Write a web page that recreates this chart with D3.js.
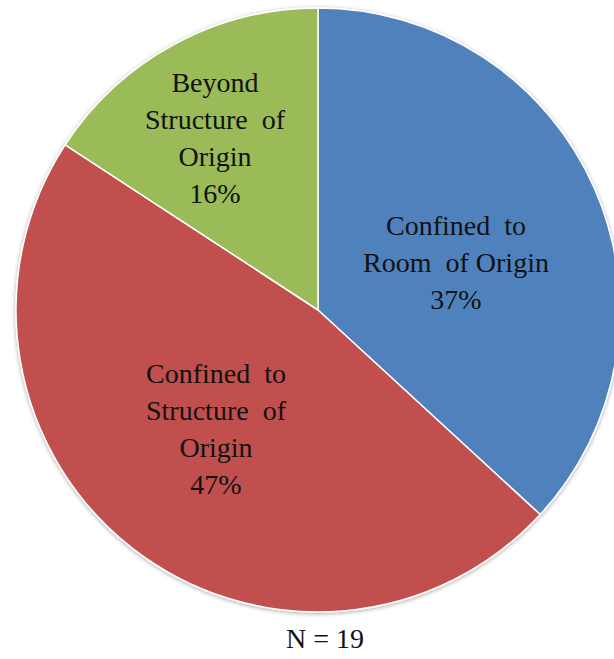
<!DOCTYPE html>
<html><head><meta charset="utf-8">
<script src="https://cdn.jsdelivr.net/npm/d3@7"></script>
<style>body{margin:0;background:#fff;}svg{display:block;}</style>
</head><body>
<svg id="c" width="614" height="659"></svg>
<script>
const categories = ["Confined to Room of Origin", "Confined to Structure of Origin", "Beyond Structure of Origin"];
const counts = [7, 9, 3];
const percentLabels = ["37%", "47%", "16%"];
const labelLines = [["Confined\u00a0\u00a0to", "Room\u00a0\u00a0of Origin"], ["Confined\u00a0\u00a0to", "Structure\u00a0\u00a0of", "Origin"], ["Beyond", "Structure\u00a0\u00a0of", "Origin"]];
const colors = ["#4F81BD", "#C0504D", "#9BBB59"];
const footnote = "N = 19";

const FONT = "Liberation Serif";
const svg = d3.select("#c");
const cx = 318, cy = 310, r = 302;
const defs = svg.append("defs");
const f = defs.append("filter").attr("id","sh").attr("x","-10%").attr("y","-10%").attr("width","120%").attr("height","120%");
f.append("feGaussianBlur").attr("in","SourceAlpha").attr("stdDeviation",2).attr("result","b");
f.append("feOffset").attr("in","b").attr("dx",0).attr("dy",1).attr("result","o");
f.append("feComponentTransfer").attr("in","o").attr("result","o2").append("feFuncA").attr("type","linear").attr("slope",0.35);
const m = f.append("feMerge"); m.append("feMergeNode").attr("in","o2"); m.append("feMergeNode").attr("in","SourceGraphic");

const pie = d3.pie().sort(null).value(d => d)(counts);
const arc = d3.arc().innerRadius(0).outerRadius(r);
const g = svg.append("g").attr("transform", `translate(${cx},${cy})`);
g.append("g").attr("filter","url(#sh)").selectAll("path").data(pie).join("path")
  .attr("d", arc).attr("fill", (d,i)=>colors[i]).attr("stroke","#fff").attr("stroke-width",1.5);

const offsets = [[138, -75], [-102, 73], [-103, -218]];
const lh = 37;
pie.forEach((d,i)=>{
  const lines = labelLines[i].concat([percentLabels[i]]);
  lines.forEach((s,k)=>{
    svg.append("text").attr("text-anchor","middle").attr("font-family", FONT)
      .attr("font-size",28).attr("fill","#111")
      .attr("x", cx + offsets[i][0]).attr("y", cy + offsets[i][1] + k*lh).text(s);
  });
});
svg.append("text").attr("x",325).attr("y",648).attr("text-anchor","middle").attr("font-family", FONT)
  .attr("font-size",28).attr("fill","#111").text(footnote);
</script>
</body></html>
